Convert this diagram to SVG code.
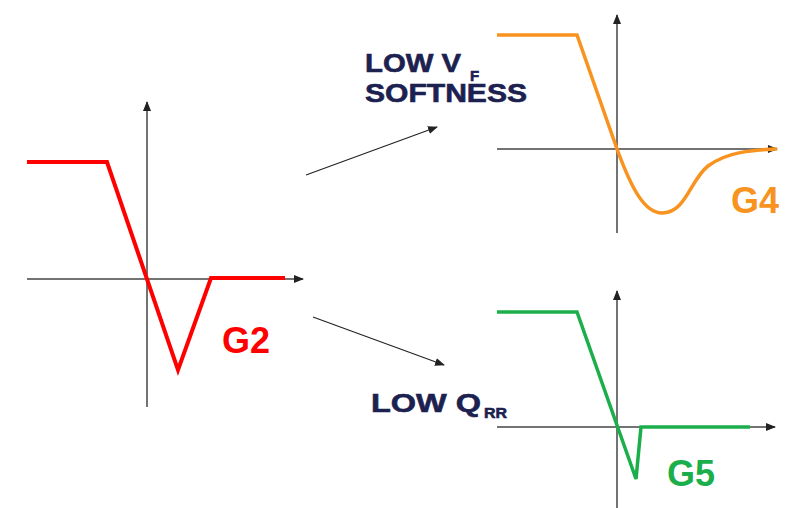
<svg xmlns="http://www.w3.org/2000/svg" width="790" height="508" viewBox="0 0 790 508">
<defs>
<marker id="ah" viewBox="0 0 10 10" refX="9" refY="5" markerWidth="10" markerHeight="10" markerUnits="userSpaceOnUse" orient="auto"><path d="M0,1 L10,5 L0,9 Z" fill="#222"/></marker>
</defs>
<style>
.axis{stroke:#444;stroke-width:1.5;fill:none;marker-end:url(#ah)}
.conn{stroke:#222;stroke-width:1.2;fill:none;marker-end:url(#ah)}
.lbl{font-family:"Liberation Sans",Arial,sans-serif;font-weight:bold;fill:#1c2150;stroke:#1c2150;stroke-width:0.6}
.g{font-family:"Liberation Sans",Arial,sans-serif;font-weight:bold;font-size:36px}
.curve{fill:none;stroke-linejoin:miter;stroke-linecap:butt}
</style>
<rect width="790" height="508" fill="#fff"/>
<g id="plot-g2">
<line class="axis" x1="147" y1="407" x2="147" y2="102"/>
<line class="axis" x1="27" y1="279" x2="303" y2="279"/>
<path class="curve" d="M27,162 L107,162 L178,370 L211,278 L285,278" stroke="#ff0000" stroke-width="4"/>
<text class="g" x="222" y="353" fill="#ff0000">G2</text>
</g>
<g id="plot-g4">
<line class="axis" x1="617" y1="233" x2="617" y2="15"/>
<line class="axis" x1="497" y1="149" x2="777" y2="149"/>
<path class="curve" d="M497,35 L577,35 L617,149 C632,190 645,213 662,213 C686,213 690,180 708,166 C728,151 755,150 777,149" stroke="#f7931e" stroke-width="3.5"/>
<text class="g" x="731" y="213" fill="#f7931e">G4</text>
</g>
<g id="plot-g5">
<line class="axis" x1="617" y1="508" x2="617" y2="291"/>
<line class="axis" x1="497" y1="427" x2="775" y2="427"/>
<path class="curve" d="M497,312 L577,312 L636,479 L641,427 L750,427" stroke="#1aaf4b" stroke-width="3.5"/>
<text class="g" x="667" y="486" fill="#1aaf4b">G5</text>
</g>
<g id="label-vf">
<text class="lbl" x="365" y="72" font-size="25" textLength="96" lengthAdjust="spacingAndGlyphs">LOW V</text>
<text class="lbl" x="470" y="81" font-size="15">F</text>
<text class="lbl" x="365" y="102" font-size="25" textLength="162" lengthAdjust="spacingAndGlyphs">SOFTNESS</text>
</g>
<g id="label-qrr">
<text class="lbl" x="371" y="412" font-size="25" textLength="110" lengthAdjust="spacingAndGlyphs">LOW Q</text>
<text class="lbl" x="484" y="418" font-size="15" textLength="23" lengthAdjust="spacingAndGlyphs">RR</text>
</g>
<g id="connectors">
<line class="conn" x1="306" y1="175" x2="437" y2="127"/>
<line class="conn" x1="313" y1="317" x2="444" y2="365"/>
</g>
</svg>
